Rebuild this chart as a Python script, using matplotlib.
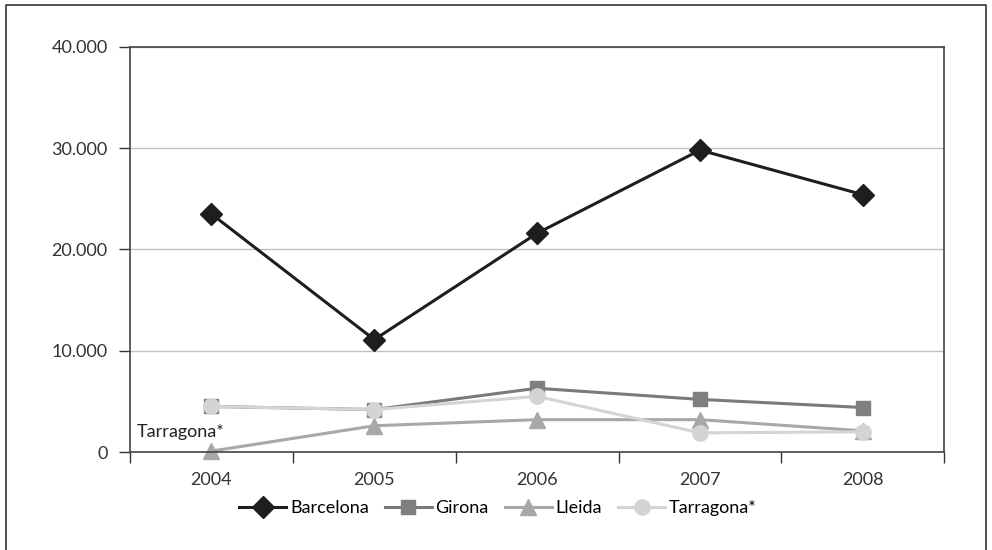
import matplotlib.pyplot as plt
from matplotlib.lines import Line2D
import numpy as np

years = ["2004", "2005", "2006", "2007", "2008"]
barcelona = [23500, 11100, 21600, 29800, 25400]
girona = [4500, 4200, 6300, 5200, 4400]
lleida = [100, 2600, 3200, 3200, 2100]
tarragona = [4500, 4200, 5500, 1900, 2000]

series = [
    ("Barcelona", barcelona, "#1e1e1e", "#1e1e1e", "D", 11),
    ("Girona", girona, "#7a7a7a", "#7f7f7f", "s", 10),
    ("Lleida", lleida, "#a8a8a8", "#a8a8a8", "^", 12),
    ("Tarragona*", tarragona, "#d4d4d4", "#d4d4d4", "o", 11),
]

plt.rcParams['font.family'] = ['Lato', 'DejaVu Sans']

fig = plt.figure(figsize=(9.92, 5.5), dpi=100)
ax = fig.add_axes([0.131, 0.178, 0.821, 0.737])

x = np.arange(len(years))
for name, vals, lc, mc, mk, ms in series:
    ax.plot(x, vals, color=lc, linewidth=2.2, marker=mk, markersize=ms,
            markerfacecolor=mc, markeredgecolor=mc, label=name, clip_on=False)

ax.set_xlim(-0.5, len(years) - 0.5)
ax.set_ylim(0, 40000)
ax.set_yticks(np.arange(0, 40001, 10000))
ax.set_yticklabels(["0", "10.000", "20.000", "30.000", "40.000"])
ax.yaxis.grid(True, color="#c0c0c0", linewidth=1)
ax.set_axisbelow(True)

# category dividers as major ticks, labels as minor ticks
ax.set_xticks(np.arange(-0.5, len(years), 1.0))
ax.set_xticklabels([])
ax.set_xticks(x, minor=True)
ax.set_xticklabels(years, minor=True)
ax.tick_params(axis="x", which="major", length=8, width=1, color="#333333")
ax.tick_params(axis="x", which="minor", length=0, pad=14, labelsize=13, labelcolor="#333333")
ax.tick_params(axis="y", length=8, width=1, color="#333333", pad=8, labelsize=13, labelcolor="#333333")

for s in ax.spines.values():
    s.set_color("#444444")
    s.set_linewidth(1.2)

ax.text(-0.46, 2000, "Tarragona*", fontsize=13, color="#222222", va="center", ha="left")

handles = [Line2D([], [], color=lc, linewidth=2.2, marker=mk, markersize=ms,
                  markerfacecolor=mc, markeredgecolor=mc) for _, _, lc, mc, mk, ms in series]
fig.legend(handles, [s[0] for s in series], loc="center", bbox_to_anchor=(0.502, 0.076),
           ncol=4, frameon=False, handlelength=2.6, handletextpad=0.2, columnspacing=0.9,
           prop={"size": 13})

# outer frame (bottom edge cut off in the reference)
fig.add_artist(Line2D([0.006, 0.006, 0.994, 0.994], [0.0, 0.991, 0.991, 0.0],
                      transform=fig.transFigure, color="#333333", linewidth=1.2))

fig.savefig("out.png", dpi=100)
